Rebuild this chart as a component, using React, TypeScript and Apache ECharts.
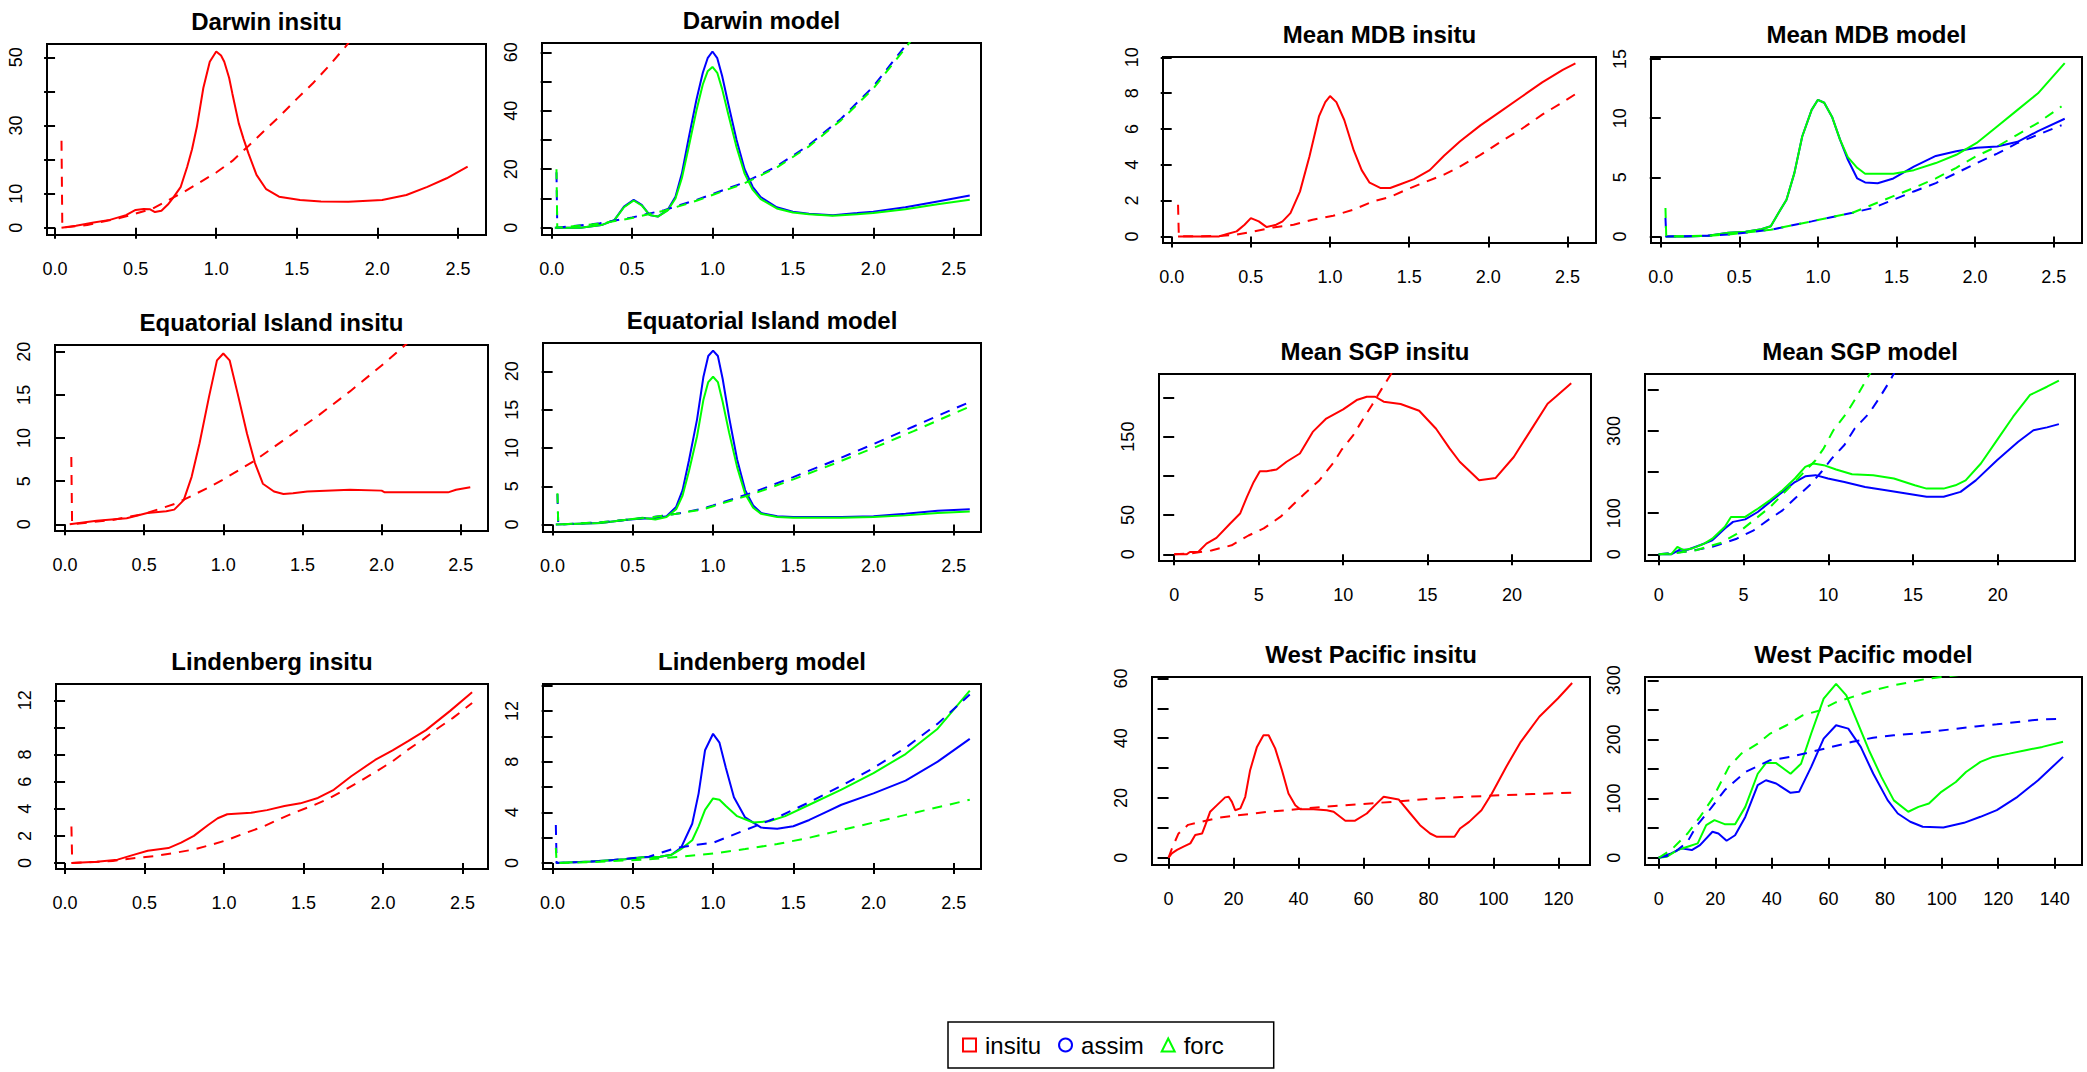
import React, { useEffect, useRef } from 'react';
import * as echarts from 'echarts';

const FONT = "'Liberation Sans', Arial, Helvetica, sans-serif";
const RED = '#ff0000';
const BLUE = '#0000ff';
const GREEN = '#00ff00';

// ---------- tick values ----------
const waveTicks = [0, 0.5, 1, 1.5, 2, 2.5];
const sgpTicks = [0, 5, 10, 15, 20];
const wpInsituTicks = [0, 20, 40, 60, 80, 100, 120];
const wpModelTicks = [0, 20, 40, 60, 80, 100, 120, 140];

// ---------- Darwin ----------
const darwinInsituSolid = [[0.04,0],[0.13,0.6],[0.24,1.5],[0.34,2.3],[0.44,3.7],[0.5,5.2],[0.55,5.5],[0.59,5.4],[0.62,4.6],[0.66,5.0],[0.7,6.8],[0.73,8.6],[0.78,12],[0.82,17.9],[0.85,23],[0.88,29.6],[0.92,41],[0.96,48.7],[1.0,51.7],[1.03,50.5],[1.05,48.7],[1.08,44],[1.1,39.4],[1.14,30.6],[1.17,26],[1.2,21.8],[1.25,15.5],[1.31,11.3],[1.39,9.1],[1.52,8.1],[1.65,7.7],[1.82,7.6],[2.03,8.1],[2.18,9.6],[2.31,12],[2.43,14.5],[2.56,17.9]];
const darwinInsituDashed = [[0.04,25.5],[0.045,0],[0.2,0.8],[0.4,2.8],[0.6,5.5],[0.8,10.5],[1.0,16.2],[1.1,19.6],[1.2,24],[1.3,28.5],[1.4,33],[1.5,37.8],[1.6,42.4],[1.7,47.5],[1.8,53],[1.9,59],[2.0,65]];
const darwinAssim = [[0.02,0],[0.18,0],[0.31,0.9],[0.39,2.6],[0.45,7.2],[0.51,9.5],[0.56,7.8],[0.61,4.3],[0.66,3.8],[0.72,6],[0.77,10.6],[0.81,18.6],[0.85,30],[0.9,43.7],[0.94,53],[0.97,58],[1.0,60.3],[1.03,58],[1.06,52],[1.1,42],[1.15,30],[1.2,20],[1.25,14],[1.3,10.5],[1.4,7],[1.5,5.5],[1.6,4.8],[1.75,4.3],[1.9,5],[2.0,5.5],[2.2,7],[2.4,9],[2.6,11]];
const darwinForc = [[0.02,0],[0.18,0],[0.31,0.9],[0.39,2.6],[0.45,7.0],[0.51,9.3],[0.56,7.6],[0.61,4.3],[0.66,3.8],[0.72,5.8],[0.77,10],[0.81,17],[0.85,27],[0.9,40],[0.94,49],[0.97,53.5],[1.0,55],[1.03,53],[1.06,47.5],[1.1,38.5],[1.15,27.5],[1.2,18.5],[1.25,13],[1.3,9.8],[1.4,6.6],[1.5,5.2],[1.6,4.6],[1.75,4.1],[1.9,4.6],[2.0,5],[2.2,6.3],[2.4,8],[2.6,9.6]];
const darwinAssimDashed = [[0.03,19],[0.035,0],[0.3,1.5],[0.5,3.5],[0.7,6],[0.9,9.5],[1.0,11.5],[1.2,15.5],[1.4,21],[1.6,28.3],[1.8,37.3],[2.0,48.3],[2.2,62.3],[2.4,77]];
const darwinForcDashed = [[0.03,20],[0.035,0],[0.3,1.4],[0.5,3.3],[0.7,5.8],[0.9,9.2],[1.0,11.2],[1.2,15.2],[1.4,20.6],[1.6,27.8],[1.8,36.8],[2.0,47.6],[2.2,61.5],[2.4,76]];

// ---------- Equatorial Island ----------
const equatorialInsituSolid = [[0.03,0],[0.2,0.4],[0.39,0.7],[0.52,1.3],[0.64,1.5],[0.69,1.7],[0.75,2.8],[0.8,5.5],[0.85,9.4],[0.91,14.8],[0.96,19],[1.0,19.8],[1.04,19],[1.09,15.2],[1.15,10.5],[1.2,7.1],[1.25,4.7],[1.32,3.8],[1.38,3.5],[1.44,3.6],[1.53,3.8],[1.8,4.0],[2.0,3.9],[2.02,3.7],[2.42,3.7],[2.47,4.0],[2.56,4.3]];
const equatorialInsituDashed = [[0.04,7.8],[0.045,0],[0.3,0.5],[0.5,1.2],[0.7,2.4],[0.9,4.2],[1.0,5.2],[1.2,7.4],[1.4,10],[1.6,12.6],[1.8,15.4],[2.0,18.4],[2.2,21.6],[2.4,25]];
const equatorialAssim = [[0.02,0],[0.3,0.2],[0.45,0.6],[0.56,0.8],[0.64,0.8],[0.71,1.1],[0.77,2.3],[0.81,4.5],[0.85,8.4],[0.9,13.7],[0.94,19.3],[0.97,22],[1.0,22.7],[1.03,22],[1.06,19],[1.1,14],[1.15,8.5],[1.2,4.5],[1.25,2.5],[1.3,1.5],[1.4,1.1],[1.5,1.0],[1.8,1.0],[2.0,1.1],[2.2,1.4],[2.4,1.8],[2.6,2.0]];
const equatorialForc = [[0.02,0],[0.3,0.2],[0.45,0.6],[0.56,0.9],[0.64,0.65],[0.71,1.0],[0.77,2.0],[0.81,3.8],[0.85,7.0],[0.9,11.5],[0.94,16.3],[0.97,18.6],[1.0,19.3],[1.03,18.6],[1.06,16],[1.1,12],[1.15,7.5],[1.2,4],[1.25,2.2],[1.3,1.4],[1.4,1.0],[1.5,0.9],[1.8,0.9],[2.0,1.0],[2.2,1.2],[2.4,1.5],[2.6,1.7]];
const equatorialAssimDashed = [[0.03,4],[0.035,0],[0.3,0.3],[0.6,0.9],[0.77,1.4],[0.94,2.1],[1.0,2.5],[1.25,4.2],[1.5,6.2],[1.75,8.3],[2.0,10.5],[2.25,12.8],[2.5,15.1],[2.6,16]];
const equatorialForcDashed = [[0.03,4.1],[0.035,0],[0.3,0.3],[0.6,0.9],[0.77,1.4],[0.94,2.0],[1.0,2.4],[1.25,4.0],[1.5,5.9],[1.75,7.9],[2.0,10],[2.25,12.2],[2.5,14.5],[2.6,15.4]];

// ---------- Lindenberg ----------
const lindenbergInsituSolid = [[0.04,0],[0.2,0.1],[0.33,0.25],[0.43,0.6],[0.52,0.9],[0.65,1.1],[0.73,1.5],[0.81,2.0],[0.9,2.8],[0.96,3.3],[1.02,3.6],[1.17,3.7],[1.27,3.9],[1.38,4.2],[1.48,4.4],[1.59,4.8],[1.69,5.4],[1.8,6.4],[1.95,7.6],[2.06,8.3],[2.16,9.0],[2.27,9.8],[2.42,11.2],[2.56,12.6]];
const lindenbergInsituDashed = [[0.04,2.7],[0.045,0],[0.3,0.15],[0.43,0.35],[0.56,0.5],[0.69,0.75],[0.81,1.0],[0.92,1.35],[1.02,1.7],[1.13,2.2],[1.25,2.7],[1.34,3.2],[1.44,3.7],[1.55,4.2],[1.65,4.7],[1.76,5.4],[1.85,6.0],[1.95,6.7],[2.06,7.5],[2.15,8.3],[2.25,9.1],[2.34,9.9],[2.44,10.7],[2.56,11.8]];
const lindenbergAssim = [[0.02,0],[0.24,0.13],[0.45,0.3],[0.56,0.45],[0.67,0.5],[0.74,0.65],[0.8,1.2],[0.87,3.1],[0.91,5.5],[0.95,8.9],[1.0,10.2],[1.04,9.5],[1.08,7.5],[1.13,5.2],[1.2,3.6],[1.3,2.8],[1.4,2.7],[1.5,2.9],[1.6,3.4],[1.7,4.0],[1.8,4.6],[2.0,5.5],[2.2,6.5],[2.4,8.0],[2.6,9.8]];
const lindenbergForc = [[0.02,0],[0.24,0.13],[0.45,0.3],[0.56,0.45],[0.67,0.5],[0.74,0.65],[0.8,1.1],[0.87,1.8],[0.91,2.9],[0.95,4.2],[1.0,5.1],[1.04,5.0],[1.08,4.5],[1.15,3.7],[1.25,3.2],[1.35,3.3],[1.45,3.7],[1.6,4.6],[1.8,5.8],[2.0,7.1],[2.2,8.6],[2.4,10.6],[2.6,13.6]];
const lindenbergAssimDashed = [[0.02,3.0],[0.025,0],[0.3,0.15],[0.6,0.5],[0.77,1.2],[0.9,1.45],[1.0,1.6],[1.2,2.6],[1.4,3.6],[1.6,4.8],[1.8,6.1],[2.0,7.5],[2.2,9.1],[2.4,11.0],[2.6,13.3]];
const lindenbergForcDashed = [[0.02,1.2],[0.025,0],[0.3,0.1],[0.6,0.3],[0.8,0.5],[1.0,0.75],[1.2,1.1],[1.4,1.5],[1.6,2.0],[1.8,2.6],[2.0,3.2],[2.2,3.8],[2.4,4.4],[2.6,5.0]];

// ---------- Mean MDB ----------
const mdbInsituSolid = [[0.04,0],[0.3,0],[0.35,0.13],[0.41,0.28],[0.46,0.65],[0.5,1.02],[0.55,0.84],[0.6,0.52],[0.66,0.65],[0.7,0.84],[0.75,1.3],[0.81,2.5],[0.87,4.46],[0.93,6.7],[0.97,7.5],[1.0,7.84],[1.04,7.5],[1.09,6.5],[1.15,4.8],[1.2,3.7],[1.25,3.0],[1.32,2.7],[1.38,2.7],[1.44,2.9],[1.53,3.2],[1.63,3.7],[1.72,4.5],[1.82,5.3],[1.95,6.2],[2.08,7.0],[2.21,7.8],[2.34,8.6],[2.47,9.3],[2.55,9.67]];
const mdbInsituDashed = [[0.04,1.77],[0.045,0],[0.3,0.02],[0.41,0.1],[0.52,0.28],[0.64,0.5],[0.77,0.65],[0.89,0.93],[1.02,1.15],[1.15,1.5],[1.27,1.95],[1.38,2.2],[1.48,2.6],[1.59,3.0],[1.72,3.45],[1.82,3.9],[1.95,4.55],[2.08,5.3],[2.21,6.0],[2.34,6.8],[2.47,7.5],[2.56,8.0]];
const mdbAssim = [[0.03,0],[0.17,0],[0.3,0.05],[0.43,0.3],[0.54,0.4],[0.64,0.6],[0.7,0.85],[0.75,2.0],[0.8,3.1],[0.85,5.35],[0.9,8.45],[0.96,10.7],[1.0,11.55],[1.04,11.3],[1.09,10.1],[1.14,8.2],[1.19,6.5],[1.25,4.9],[1.3,4.56],[1.38,4.5],[1.48,4.9],[1.61,5.9],[1.75,6.8],[1.88,7.2],[2.01,7.5],[2.14,7.6],[2.27,8.0],[2.4,8.9],[2.57,9.95]];
const mdbForc = [[0.03,0],[0.17,0],[0.3,0.05],[0.43,0.3],[0.54,0.4],[0.64,0.6],[0.7,0.85],[0.75,2.0],[0.8,3.1],[0.85,5.35],[0.9,8.45],[0.96,10.7],[1.0,11.55],[1.04,11.3],[1.09,10.1],[1.14,8.2],[1.19,6.7],[1.25,5.8],[1.3,5.3],[1.48,5.3],[1.61,5.6],[1.75,6.2],[1.88,6.9],[2.01,7.9],[2.14,9.3],[2.27,10.7],[2.4,12.1],[2.57,14.65]];
const mdbAssimDashed = [[0.03,1.55],[0.035,0],[0.3,0.05],[0.43,0.15],[0.7,0.56],[0.96,1.27],[1.22,2.0],[1.35,2.4],[1.48,3.1],[1.61,3.8],[1.75,4.5],[1.88,5.35],[2.01,6.2],[2.14,7.0],[2.27,7.9],[2.4,8.6],[2.55,9.4]];
const mdbForcDashed = [[0.03,2.4],[0.035,0],[0.3,0.05],[0.43,0.15],[0.7,0.56],[0.96,1.27],[1.22,2.0],[1.35,2.7],[1.48,3.4],[1.61,4.1],[1.75,4.9],[1.88,5.8],[2.01,6.8],[2.14,7.6],[2.27,8.6],[2.4,9.6],[2.55,11.0]];

// ---------- Mean SGP ----------
const sgpInsituSolid = [[0,0],[0.73,0],[0.93,3],[1.42,3],[1.91,13.6],[2.5,21],[3.3,39],[3.9,52],[4.3,73],[4.7,92],[5.07,106],[5.47,106],[6.06,108],[6.65,118],[7.44,128.5],[8.2,156],[9.0,173],[10.0,184.7],[10.8,196.6],[11.4,200.8],[11.9,200.8],[12.4,194.5],[13.4,191.5],[14.5,183],[15.5,160],[16.3,135],[16.9,118],[18.05,94.5],[19.03,97.4],[20.1,124],[21.1,158],[22.1,192],[22.6,201],[23.5,218]];
const sgpInsituDashed = [[0,0],[1,1],[2.2,5],[3.4,11.5],[4.4,24],[5.3,33],[6.3,48],[7.0,62.5],[7.7,77],[8.6,94.5],[9.4,116],[9.9,133],[10.6,152],[11.2,173],[11.7,190],[12.3,211.5],[12.9,232],[13.5,255]];
const sgpAssim = [[0,0],[0.73,0],[1.22,11],[1.7,11],[2.43,22],[3.16,34],[3.9,62.6],[4.38,79],[5.1,85],[5.84,103],[6.57,127.6],[7.3,152],[8.03,176],[8.64,190],[9.25,192.7],[9.98,184.5],[10.95,176],[12.17,164],[13.4,156],[14.6,148],[15.8,140],[16.8,140],[17.8,152],[18.7,180],[19.95,229],[21.2,274],[22.1,302],[22.9,309],[23.6,317]];
const sgpForc = [[0,0],[0.73,0],[1.1,18],[1.46,10],[1.95,14],[2.68,26],[3.16,38],[3.9,67],[4.26,91],[5.1,91],[5.84,111],[6.57,132],[7.3,156],[8.03,184.5],[8.64,213],[9.12,221],[9.73,217],[10.46,206.5],[11.4,195],[12.65,192.7],[13.87,184.5],[15.1,168],[15.8,160],[16.8,160],[17.5,168],[18.1,180],[19.0,221],[19.95,278],[20.9,335],[21.9,388],[22.9,408],[23.6,423]];
const sgpAssimDashed = [[0,0],[1.7,7],[3.16,18],[4.6,38],[5.6,58.5],[6.57,87],[7.3,107],[8.03,136],[8.9,168],[9.6,201],[10.2,233],[10.95,266],[11.56,306.5],[12.4,343],[13.0,380],[13.6,420],[14.0,450]];
const sgpForcDashed = [[0,0],[1,3],[2.2,10],[3.65,27.6],[4.6,50],[5.6,83],[6.57,115],[7.54,156],[8.5,197],[9.25,229],[9.73,258],[10.3,302],[11.07,343],[11.68,384],[12.17,420],[12.6,450]];

// ---------- West Pacific ----------
const wpInsituSolid = [[0,0],[1,1.45],[2.6,2.6],[4.6,3.7],[6.7,4.8],[8.2,7.6],[10.3,8.1],[11.3,10.9],[12.8,15.4],[14.9,17.6],[17.4,20.2],[18.5,20.4],[19.5,18.7],[20.5,15.9],[22.1,16.5],[23.6,20.4],[25.1,29.3],[27.2,37.1],[29.2,41],[30.8,41],[32.8,36.6],[34.9,29.3],[36.9,21.5],[39,17.6],[40.5,16.2],[44.6,16.2],[48.7,15.9],[50.8,15.4],[54.4,12.4],[57.4,12.4],[61,14.8],[64.1,18.2],[66.2,20.4],[70.8,19.5],[74.4,14.8],[77.4,10.9],[80.5,8.1],[82.6,7.0],[88,7.0],[89.7,9.8],[92.5,12],[96.3,15.9],[99.5,21.5],[103.9,30.4],[108.4,38.8],[114.1,47.2],[119.8,53.3],[124.2,58.5]];
const wpInsituDashed = [[0,0],[1,3],[3,8],[6,11],[10,12],[15,13.3],[20,14],[30,15.3],[40,16.3],[50,17.2],[60,18],[70,18.8],[80,19.7],[90,20.3],[100,20.8],[112,21.3],[125,21.8]];
const wpAssim = [[0,0],[4.4,7.3],[8,15.8],[11.7,13],[14.6,21.4],[19,44],[21.1,41],[24,28.7],[27,38],[30.6,69],[35,122.7],[37.9,131],[41.5,125.5],[46.6,109.7],[49.6,111.4],[53.9,153.6],[58.3,201.5],[62.7,224],[67,218.3],[71.4,187.4],[75.8,142.4],[80.9,97.4],[84.5,74.8],[88.9,60.8],[93.3,52.3],[100.6,51.2],[107.9,59],[113.7,69.2],[119.5,80.5],[126.8,103],[134.1,131],[142.9,170.5]];
const wpForc = [[0,0],[2.9,1.7],[6.6,13],[10.2,18.6],[13.8,24.2],[16.8,55],[19.7,63.6],[23.3,56.8],[27,56.8],[30.6,86],[35,142],[37.9,160],[41.5,160],[46.6,142],[50.3,159],[53.9,210],[58.3,269],[62.7,294],[66.3,274.6],[70,232],[74.3,181.8],[78.7,136.7],[83.1,97],[88.2,77.7],[91.8,86],[95.5,91.7],[99.9,111.4],[105,128],[108.6,145],[113.7,162],[118.1,170.5],[123.9,176],[129.7,181.8],[135.6,187.4],[142.9,196]];
const wpAssimDashed = [[0,0],[4.4,4.5],[10.2,27],[13.1,52],[17.5,77.7],[23.3,114],[30.6,145],[39.4,165],[46.6,170.5],[53.9,179],[61.2,187.4],[68.5,196],[75.8,203],[83.1,207],[90.4,210],[97.7,214],[105,218],[112,222],[119.5,225.7],[126.8,229.6],[134,233.5],[143,235]];
const wpForcDashed = [[0,0],[4.4,13],[10.2,41],[14.6,69],[19,100],[24.8,153.6],[29.2,176],[35,193],[39.4,210],[45.2,224],[51,241],[56.9,249],[62.7,263],[68.5,272],[75.8,283],[83.1,291.5],[88.9,297],[94.8,302.7],[102,306.7],[115,314],[130,321],[143,327]];

// ---------- layout (pixels) ----------
type Curve = { name: string; color: string; data: number[][]; dashed: boolean };
const ins = (s: number[][], d: number[][]): Curve[] => [
  { name: 'insitu', color: RED, data: s, dashed: false },
  { name: 'insitu', color: RED, data: d, dashed: true },
];
const mod = (a: number[][], f: number[][], ad: number[][], fd: number[][]): Curve[] => [
  { name: 'assim', color: BLUE, data: a, dashed: false },
  { name: 'forc', color: GREEN, data: f, dashed: false },
  { name: 'assim', color: BLUE, data: ad, dashed: true },
  { name: 'forc', color: GREEN, data: fd, dashed: true },
];

const panels = [
  { title: 'Darwin insitu', box: [47, 44, 486, 235], x: [-0.05, 2.674], y: [-2.14, 53.9], xt: waveTicks, dec: 1, yt: [0,10,20,30,40,50], yl: [0,10,30,50], curves: ins(darwinInsituSolid, darwinInsituDashed) },
  { title: 'Darwin model', box: [542, 43, 981, 235], x: [-0.06, 2.67], y: [-2.5, 63.2], xt: waveTicks, dec: 1, yt: [0,10,20,30,40,50,60], yl: [0,20,40,60], curves: mod(darwinAssim, darwinForc, darwinAssimDashed, darwinForcDashed) },
  { title: 'Equatorial Island insitu', box: [55, 345, 488, 531], x: [-0.063, 2.672], y: [-0.78, 20.78], xt: waveTicks, dec: 1, yt: [0,5,10,15,20], yl: [0,5,10,15,20], curves: ins(equatorialInsituSolid, equatorialInsituDashed) },
  { title: 'Equatorial Island model', box: [543, 343, 981, 532], x: [-0.06, 2.67], y: [-0.97, 23.7], xt: waveTicks, dec: 1, yt: [0,5,10,15,20], yl: [0,5,10,15,20], curves: mod(equatorialAssim, equatorialForc, equatorialAssimDashed, equatorialForcDashed) },
  { title: 'Lindenberg insitu', box: [56, 684, 488, 869], x: [-0.057, 2.66], y: [-0.44, 13.2], xt: waveTicks, dec: 1, yt: [0,2,4,6,8,10,12], yl: [0,2,4,6,8,12], curves: ins(lindenbergInsituSolid, lindenbergInsituDashed) },
  { title: 'Lindenberg model', box: [543, 684, 981, 869], x: [-0.06, 2.67], y: [-0.47, 14.13], xt: waveTicks, dec: 1, yt: [0,2,4,6,8,10,12,14], yl: [0,4,8,12], curves: mod(lindenbergAssim, lindenbergForc, lindenbergAssimDashed, lindenbergForcDashed) },
  { title: 'Mean MDB insitu', box: [1163, 57, 1596, 243], x: [-0.055, 2.68], y: [-0.37, 10.02], xt: waveTicks, dec: 1, yt: [0,2,4,6,8,10], yl: [0,2,4,6,8,10], curves: ins(mdbInsituSolid, mdbInsituDashed) },
  { title: 'Mean MDB model', box: [1651, 57, 2082, 243], x: [-0.062, 2.68], y: [-0.56, 15.17], xt: waveTicks, dec: 1, yt: [0,5,10,15], yl: [0,5,10,15], curves: mod(mdbAssim, mdbForc, mdbAssimDashed, mdbForcDashed) },
  { title: 'Mean SGP insitu', box: [1159, 374, 1591, 561], x: [-0.9, 24.67], y: [-8.5, 229.8], xt: sgpTicks, dec: 0, yt: [0,50,100,150,200], yl: [0,50,150], curves: ins(sgpInsituSolid, sgpInsituDashed) },
  { title: 'Mean SGP model', box: [1645, 374, 2075, 561], x: [-0.81, 24.55], y: [-16.3, 439], xt: sgpTicks, dec: 0, yt: [0,100,200,300,400], yl: [0,100,300], curves: mod(sgpAssim, sgpForc, sgpAssimDashed, sgpForcDashed) },
  { title: 'West Pacific insitu', box: [1152, 677, 1590, 865], x: [-5.1, 129.7], y: [-2.44, 60.5], xt: wpInsituTicks, dec: 0, yt: [0,10,20,30,40,50,60], yl: [0,20,40,60], curves: ins(wpInsituSolid, wpInsituDashed) },
  { title: 'West Pacific model', box: [1645, 677, 2082, 865], x: [-4.84, 149.6], y: [-12.3, 305.6], xt: wpModelTicks, dec: 0, yt: [0,50,100,150,200,250,300], yl: [0,100,200,300], curves: mod(wpAssim, wpForc, wpAssimDashed, wpForcDashed) },
];

function buildOption() {
  const titles = panels.map((p) => ({
    text: p.title,
    left: (p.box[0] + p.box[2]) / 2,
    top: p.box[1] - 35,
    textAlign: 'center',
    padding: 0,
    textStyle: { fontFamily: FONT, fontSize: 24, fontWeight: 'bold', color: '#000' },
  }));
  const grids = panels.map((p) => ({
    left: p.box[0],
    top: p.box[1],
    width: p.box[2] - p.box[0],
    height: p.box[3] - p.box[1],
    show: true,
    borderColor: '#000',
    borderWidth: 2,
    backgroundColor: 'transparent',
    containLabel: false,
    outerBoundsMode: 'none',
  }));
  const labelStyle = { fontFamily: FONT, fontSize: 18, color: '#000' };
  const xAxes = panels.map((p, i) => ({
    type: 'value',
    gridIndex: i,
    min: p.x[0],
    max: p.x[1],
    axisLine: { show: false },
    splitLine: { show: false },
    axisTick: { show: true, length: 11, lineStyle: { color: '#000', width: 2 }, customValues: p.xt },
    axisLabel: { ...labelStyle, margin: 25, customValues: p.xt, formatter: (v: number) => v.toFixed(p.dec) },
  }));
  const yAxes = panels.map((p, i) => ({
    type: 'value',
    gridIndex: i,
    min: p.y[0],
    max: p.y[1],
    axisLine: { show: false },
    splitLine: { show: false },
    axisTick: { show: true, length: 11, lineStyle: { color: '#000', width: 2 }, customValues: p.yt },
    axisLabel: { ...labelStyle, margin: 22, rotate: 90, customValues: p.yl, formatter: (v: number) => String(v) },
  }));
  const series: any[] = [];
  panels.forEach((p, i) => {
    p.curves.forEach((c) => {
      series.push({
        type: 'line',
        name: c.name,
        xAxisIndex: i,
        yAxisIndex: i,
        data: c.data,
        showSymbol: false,
        symbol: 'none',
        clip: true,
        silent: true,
        color: c.color,
        lineStyle: { color: c.color, width: 2, type: c.dashed ? [10, 8] : 'solid' },
      });
    });
  });
  return {
    animation: false,
    backgroundColor: '#fff',
    title: titles,
    grid: grids,
    xAxis: xAxes,
    yAxis: yAxes,
    legend: {
      left: 948,
      top: 1022,
      orient: 'horizontal',
      padding: [11, 50, 11, 14],
      itemGap: 17,
      itemWidth: 13,
      itemHeight: 13,
      borderColor: '#000',
      borderWidth: 1.5,
      selectedMode: false,
      textStyle: { fontFamily: FONT, fontSize: 24, color: '#000', padding: [0, 0, 0, 4] },
      data: [
        { name: 'insitu', icon: 'rect', itemStyle: { color: '#fff', borderColor: RED, borderWidth: 2 } },
        { name: 'assim', icon: 'circle', itemStyle: { color: '#fff', borderColor: BLUE, borderWidth: 2 } },
        { name: 'forc', icon: 'triangle', itemStyle: { color: '#fff', borderColor: GREEN, borderWidth: 2 } },
      ],
    },
    series,
  };
}

export default function App() {
  const ref = useRef<HTMLDivElement>(null);
  useEffect(() => {
    if (!ref.current) return;
    const chart = echarts.init(ref.current, null, { renderer: 'svg', width: 2087, height: 1072 });
    chart.setOption(buildOption() as any);
    return () => chart.dispose();
  }, []);
  return (
    <div
      ref={ref}
      style={{ position: 'absolute', left: 0, top: 0, width: 2087, height: 1072, background: '#fff' }}
    />
  );
}
